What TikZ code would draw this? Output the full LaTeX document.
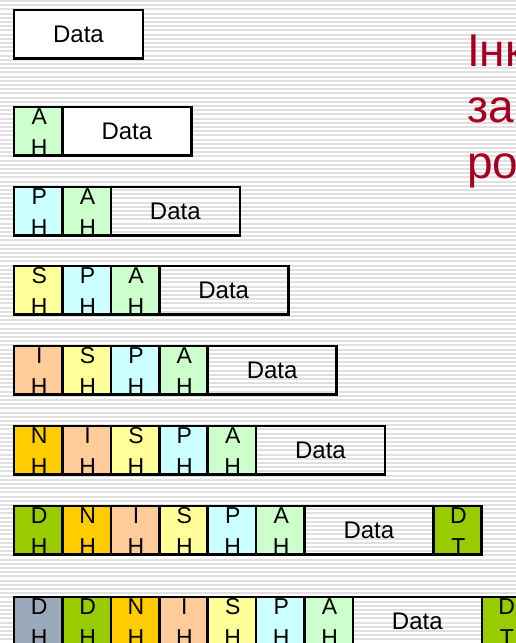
\documentclass[tikz,border=0pt]{standalone}
\usepackage{fontspec}
\setmainfont{Liberation Sans}
\usetikzlibrary{positioning}

\definecolor{ahcol}{HTML}{CCFFCC}
\definecolor{phcol}{HTML}{CCFFFF}
\definecolor{shcol}{HTML}{FFFF99}
\definecolor{ihcol}{HTML}{FFCC99}
\definecolor{nhcol}{HTML}{FFCC00}
\definecolor{dhcol}{HTML}{99CC00}
\definecolor{wirecol}{HTML}{9AAABB}
\definecolor{titlered}{HTML}{A50021}
\definecolor{stripe}{HTML}{E0E0E0}

% two stacked letters of a header cell
\newcommand{\hdr}[2]{\makebox[0pt]{\hspace{2pt}\raisebox{6.5pt}[0pt][0pt]{#1}}\makebox[0pt]{\hspace{2pt}\raisebox{-24.5pt}[0pt][0pt]{#2}}}

\begin{document}
\begin{tikzpicture}[x=1pt, y=-1pt,
    cell/.style={draw, rectangle, line width=2.6pt, inner sep=0pt, outer sep=0pt,
      minimum width=48.4pt, minimum height=48.5pt, font=\fontsize{23}{23}\selectfont},
    payload/.style={cell, minimum width=129pt, font=\fontsize{24}{24}\selectfont},
    trailer/.style={cell, minimum width=48pt, fill=dhcol}]
    \path[use as bounding box] (0,0) rectangle (516,643);
    \clip (0,0) rectangle (516,643);

        % Striped background
    \fill[white] (0,0) rectangle (516,643);
    \foreach \k in {0,...,154}
      \draw[stripe, line width=2pt] (0,\k*4.2+1) -- (516,\k*4.2+1);

        % Title (base anchor sits on the last line)
    \node[anchor=base west, inner sep=0pt, text=titlered, align=left,
      font=\fontsize{46}{56}\selectfont] (title) at (467,178) {Інк\\за\\ро};

        % Data only
    \node[payload, fill=white, anchor=north west] (data1) at (14,10) {Data};

        % + AH
    \node[cell, fill=ahcol, anchor=north west] (ah2) at (14,107) {\hdr{A}{H}};
    \node[payload, fill=white, right=0pt of ah2] (data2) {Data};

        % + PH
    \node[cell, fill=phcol, anchor=north west] (ph3) at (14,187) {\hdr{P}{H}};
    \node[cell, fill=ahcol, right=0pt of ph3] (ah3) {\hdr{A}{H}};
    \node[payload, right=0pt of ah3] (data3) {Data};

        % + SH
    \node[cell, fill=shcol, anchor=north west] (sh4) at (14,266) {\hdr{S}{H}};
    \node[cell, fill=phcol, right=0pt of sh4] (ph4) {\hdr{P}{H}};
    \node[cell, fill=ahcol, right=0pt of ph4] (ah4) {\hdr{A}{H}};
    \node[payload, right=0pt of ah4] (data4) {Data};

        % + IH
    \node[cell, fill=ihcol, anchor=north west] (ih5) at (14,346) {\hdr{I}{H}};
    \node[cell, fill=shcol, right=0pt of ih5] (sh5) {\hdr{S}{H}};
    \node[cell, fill=phcol, right=0pt of sh5] (ph5) {\hdr{P}{H}};
    \node[cell, fill=ahcol, right=0pt of ph5] (ah5) {\hdr{A}{H}};
    \node[payload, right=0pt of ah5] (data5) {Data};

        % + NH
    \node[cell, fill=nhcol, anchor=north west] (nh6) at (14,426) {\hdr{N}{H}};
    \node[cell, fill=ihcol, right=0pt of nh6] (ih6) {\hdr{I}{H}};
    \node[cell, fill=shcol, right=0pt of ih6] (sh6) {\hdr{S}{H}};
    \node[cell, fill=phcol, right=0pt of sh6] (ph6) {\hdr{P}{H}};
    \node[cell, fill=ahcol, right=0pt of ph6] (ah6) {\hdr{A}{H}};
    \node[payload, right=0pt of ah6] (data6) {Data};

        % + DH and DT
    \node[cell, fill=dhcol, anchor=north west] (dh7) at (14,506) {\hdr{D}{H}};
    \node[cell, fill=nhcol, right=0pt of dh7] (nh7) {\hdr{N}{H}};
    \node[cell, fill=ihcol, right=0pt of nh7] (ih7) {\hdr{I}{H}};
    \node[cell, fill=shcol, right=0pt of ih7] (sh7) {\hdr{S}{H}};
    \node[cell, fill=phcol, right=0pt of sh7] (ph7) {\hdr{P}{H}};
    \node[cell, fill=ahcol, right=0pt of ph7] (ah7) {\hdr{A}{H}};
    \node[payload, right=0pt of ah7] (data7) {Data};
    \node[trailer, right=0pt of data7] (dt7) {\hdr{D}{T}};

        % + outer DH
    \node[cell, fill=wirecol, anchor=north west] (wh8) at (14,597) {\hdr{D}{H}};
    \node[cell, fill=dhcol, right=0pt of wh8] (dh8) {\hdr{D}{H}};
    \node[cell, fill=nhcol, right=0pt of dh8] (nh8) {\hdr{N}{H}};
    \node[cell, fill=ihcol, right=0pt of nh8] (ih8) {\hdr{I}{H}};
    \node[cell, fill=shcol, right=0pt of ih8] (sh8) {\hdr{S}{H}};
    \node[cell, fill=phcol, right=0pt of sh8] (ph8) {\hdr{P}{H}};
    \node[cell, fill=ahcol, right=0pt of ph8] (ah8) {\hdr{A}{H}};
    \node[payload, right=0pt of ah8] (data8) {Data};
    \node[trailer, right=0pt of data8] (dt8) {\hdr{D}{T}};
  \end{tikzpicture}
\end{document}
